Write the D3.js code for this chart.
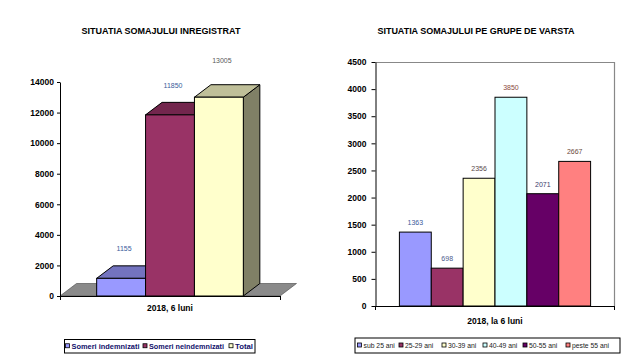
<!DOCTYPE html>
<html><head><meta charset="utf-8">
<script src="https://cdn.jsdelivr.net/npm/d3@7"></script>
<style>
html,body{margin:0;padding:0;background:#fff;}
svg{display:block;font-family:"Liberation Sans",Arial,sans-serif;}
</style></head>
<body>
<svg id="c" width="640" height="361"></svg>
<script>
// ---- data: left chart ----
const leftTitle = "SITUATIA SOMAJULUI INREGISTRAT";
const leftSeries = ["Someri indemnizati", "Someri neindemnizati", "Total"];
const leftValues = [1155, 11850, 13005];
const leftTicks = [0, 2000, 4000, 6000, 8000, 10000, 12000, 14000];
const leftCategory = "2018, 6 luni";

// ---- data: right chart ----
const rightTitle = "SITUATIA SOMAJULUI PE GRUPE DE VARSTA";
const rightSeries = ["sub 25 ani", "25-29 ani", "30-39 ani", "40-49 ani", "50-55 ani", "peste 55 ani"];
const rightValues = [1363, 698, 2356, 3850, 2071, 2667];
const rightTicks = [0, 500, 1000, 1500, 2000, 2500, 3000, 3500, 4000, 4500];
const rightCategory = "2018, la 6 luni";

// ---- styles / layout ----
const leftColors = ["#9999FF", "#993366", "#FFFFCC"];
const leftLabelColors = ["#3b5b9b", "#3b5b9b", "#5a5a5a"];
const rightColors = ["#9999FF", "#993366", "#FFFFCC", "#CCFFFF", "#660066", "#FF8080"];
const rightLabelColors = ["#3b5b9b", "#4b5b8b", "#5b4b4b", "#8b4b3b", "#3b3b6b", "#6b4b3b"];
const leftLegendX = [65, 142.5, 228.5];
const leftLegendW = [68, 75, 18];
const rightLegendX = [357, 398.5, 441.5, 482.5, 522.5, 565.5];

const svg = d3.select("#c");

function shade(c, k) {
  const r = d3.rgb(c);
  return d3.rgb(r.r * k, r.g * k, r.b * k).formatHex();
}

function legend(g, names, colors, xs, widths, x0, y0, w, h, textColor, bold, fs) {
  g.append("rect").attr("x", x0 + 0.5).attr("y", y0 + 0.5).attr("width", w).attr("height", h)
    .attr("fill", "#fff").attr("stroke", "#000").attr("stroke-width", 1);
  const cy = y0 + h / 2 + 0.5;
  names.forEach((n, i) => {
    const x = xs[i];
    g.append("rect").attr("x", x + 0.5).attr("y", cy - 2.5).attr("width", 4).attr("height", 4)
      .attr("fill", colors[i]).attr("stroke", "#000").attr("stroke-width", 0.8);
    const t = g.append("text").attr("x", x + 6.5).attr("y", cy).attr("dy", "0.35em")
      .attr("font-size", fs).attr("font-weight", bold ? "bold" : "normal")
      .attr("fill", textColor).text(n);
    if (widths) t.attr("textLength", widths[i]).attr("lengthAdjust", "spacingAndGlyphs");
  });
}

// ================= LEFT (3D) =================
(function () {
  const g = svg.append("g");
  g.append("text").attr("x", 161).attr("y", 34).attr("text-anchor", "middle")
    .attr("font-size", 9).attr("font-weight", "bold").attr("fill", "#000").text(leftTitle);

  const x0 = 60, x1 = 280;
  const y = d3.scaleLinear().domain([0, 14000]).range([296, 82]);
  const xb = d3.scaleBand().domain(leftSeries).range([x0, x1]).paddingInner(0).paddingOuter(0.75);
  const dx = 16.5, dy = -12.5;
  const base = y(0);

  g.append("polygon")
    .attr("points", [[x0, base], [x1, base], [x1 + dx, base + dy], [x0 + dx, base + dy]].map(p => p.join(",")).join(" "))
    .attr("fill", "#8a8a8a").attr("stroke", "#444").attr("stroke-width", 0.6);

  leftSeries.forEach((s, i) => {
    const bx = xb(s), bw = xb.bandwidth(), top = y(leftValues[i]);
    const c = leftColors[i];
    g.append("polygon")
      .attr("points", [[bx + bw, base], [bx + bw + dx, base + dy], [bx + bw + dx, top + dy], [bx + bw, top]].map(p => p.join(",")).join(" "))
      .attr("fill", shade(c, 0.5)).attr("stroke", "#000").attr("stroke-width", 1).attr("stroke-linejoin", "round");
    g.append("polygon")
      .attr("points", [[bx, top], [bx + bw, top], [bx + bw + dx, top + dy], [bx + dx, top + dy]].map(p => p.join(",")).join(" "))
      .attr("fill", shade(c, 0.75)).attr("stroke", "#000").attr("stroke-width", 1).attr("stroke-linejoin", "round");
    g.append("rect").attr("x", bx).attr("y", top).attr("width", bw).attr("height", base - top)
      .attr("fill", c).attr("stroke", "#000").attr("stroke-width", 1);
  });

  leftSeries.forEach((s, i) => {
    const cx = xb(s) + xb.bandwidth() / 2 + 3;
    g.append("text").attr("x", cx).attr("y", y(leftValues[i]) + dy - 17 - (i === 2 ? 7 : 0)).attr("dy", "0.35em")
      .attr("text-anchor", "middle").attr("font-size", 7).attr("fill", leftLabelColors[i]).text(leftValues[i]);
  });

  const ax = g.append("g").attr("transform", `translate(${x0},0)`)
    .call(d3.axisLeft(y).tickValues(leftTicks).tickSize(3).tickSizeOuter(0).tickPadding(3).tickFormat(d3.format("d")));
  ax.select(".domain").attr("stroke", "#000");
  ax.selectAll("line").attr("stroke", "#000");
  ax.selectAll("text").attr("font-size", 8.5).attr("font-weight", "bold").attr("fill", "#000")
    .attr("font-family", "Liberation Sans, Arial, sans-serif");

  g.append("line").attr("x1", x0).attr("x2", x1).attr("y1", base + 0.5).attr("y2", base + 0.5).attr("stroke", "#000");
  [x0, x1].forEach(xx => g.append("line").attr("x1", xx + 0.5).attr("x2", xx + 0.5).attr("y1", base).attr("y2", base + 4).attr("stroke", "#000"));

  g.append("text").attr("x", 170).attr("y", 308.5).attr("dy", "0.35em").attr("text-anchor", "middle")
    .attr("font-size", 8.5).attr("font-weight", "bold").attr("fill", "#000").text(leftCategory);

  legend(g, leftSeries, leftColors, leftLegendX, leftLegendW, 64, 339, 190.5, 13.5, "#10106a", true, 7.5);
})();

// ================= RIGHT (2D) =================
(function () {
  const g = svg.append("g");
  g.append("text").attr("x", 476).attr("y", 34).attr("text-anchor", "middle")
    .attr("font-size", 9).attr("font-weight", "bold").attr("fill", "#000").attr("textLength", 197).text(rightTitle);

  const x0 = 375.5, x1 = 614.5;
  const y = d3.scaleLinear().domain([0, 4500]).range([306, 62]);
  const xb = d3.scaleBand().domain(rightSeries).range([x0, x1]).paddingInner(0).paddingOuter(0.75);

  g.append("path").attr("d", `M${x0},${y(4500) + 0.5}H${x1}V${y(0)}`).attr("fill", "none").attr("stroke", "#888").attr("stroke-width", 1.2);

  rightSeries.forEach((s, i) => {
    g.append("rect").attr("x", xb(s)).attr("y", y(rightValues[i])).attr("width", xb.bandwidth())
      .attr("height", y(0) - y(rightValues[i])).attr("fill", rightColors[i]).attr("stroke", "#000").attr("stroke-width", 1);
  });

  rightSeries.forEach((s, i) => {
    g.append("text").attr("x", xb(s) + xb.bandwidth() / 2).attr("y", y(rightValues[i]) - 9.5).attr("dy", "0.35em")
      .attr("text-anchor", "middle").attr("font-size", 7).attr("fill", rightLabelColors[i]).text(rightValues[i]);
  });

  const ax = g.append("g").attr("transform", `translate(${x0},0)`)
    .call(d3.axisLeft(y).tickValues(rightTicks).tickSize(4).tickSizeOuter(0).tickPadding(5).tickFormat(d3.format("d")));
  ax.select(".domain").attr("stroke", "#000");
  ax.selectAll("line").attr("stroke", "#000");
  ax.selectAll("text").attr("font-size", 8.5).attr("font-weight", "bold").attr("fill", "#000")
    .attr("font-family", "Liberation Sans, Arial, sans-serif");

  g.append("line").attr("x1", x0).attr("x2", x1).attr("y1", y(0) + 0.5).attr("y2", y(0) + 0.5).attr("stroke", "#000");
  [x0, x1].forEach(xx => g.append("line").attr("x1", xx).attr("x2", xx).attr("y1", y(0)).attr("y2", y(0) + 4).attr("stroke", "#000"));

  g.append("text").attr("x", 495).attr("y", 321).attr("dy", "0.35em").attr("text-anchor", "middle")
    .attr("font-size", 8.5).attr("font-weight", "bold").attr("fill", "#000").text(rightCategory);

  legend(g, rightSeries, rightColors, rightLegendX, null, 354.5, 337.5, 265, 15, "#222", false, 6.8);
})();
</script>
</body></html>
